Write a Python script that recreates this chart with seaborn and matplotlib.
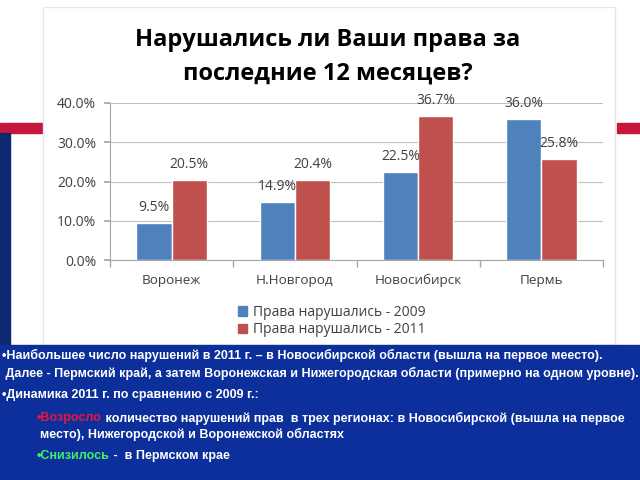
import pandas as pd
import seaborn as sns
import matplotlib.pyplot as plt
from matplotlib.patches import Rectangle, Patch

# ---------- данные ----------
regions = ["Воронеж", "Н.Новгород", "Новосибирск", "Пермь"]
viol_2009 = [0.095, 0.149, 0.225, 0.360]
viol_2011 = [0.205, 0.204, 0.367, 0.258]
series_names = ["Права нарушались - 2009", "Права нарушались - 2011"]
y_ticks = [0.0, 0.1, 0.2, 0.3, 0.4]

title = "Нарушались ли Ваши права за\nпоследние 12 месяцев?"

notes = [
    "•Наибольшее число нарушений в 2011 г. – в Новосибирской области (вышла на первое меесто).",
    " Далее - Пермский край, а затем Воронежская и Нижегородская области (примерно на одном уровне).",
    "•Динамика 2011 г. по сравнению с 2009 г.:",
]
up_word = "•Возросло"
up_rest = " количество нарушений прав  в трех регионах: в Новосибирской (вышла на первое"
up_line2 = "место), Нижегородской и Воронежской областях"
down_word = "•Снизилось"
down_rest = " -  в Пермском крае"

colors = ["#4F81BD", "#C0504D"]

sns.set_theme(style="white")
plt.rcParams["font.family"] = ["Open Sans", "DejaVu Sans"]

W, H = 640, 480
fig = plt.figure(figsize=(6.4, 4.8), dpi=100)
fig.patch.set_facecolor("white")


def fx(px):
    return px / W


def fy(py):
    return 1 - py / H


# ---------- фон слайда ----------
fig.patches.append(Rectangle((fx(0), fy(133)), fx(43), 10 / H, transform=fig.transFigure,
                             color="#C8153E", zorder=0))
fig.patches.append(Rectangle((fx(617), fy(133)), fx(23), 10 / H, transform=fig.transFigure,
                             color="#C8153E", zorder=0))
fig.patches.append(Rectangle((fx(0), fy(480)), fx(10), (480 - 133) / H, transform=fig.transFigure,
                             color="#0B2870", zorder=0))
fig.patches.append(Rectangle((fx(43), fy(345)), fx(615 - 43), (345 - 7) / H, transform=fig.transFigure,
                             facecolor="white", edgecolor="#E6E6E6", lw=1, zorder=1))
fig.patches.append(Rectangle((0, 0), 1, (480 - 345) / H, transform=fig.transFigure,
                             color="#0C2F9C", zorder=2))

# ---------- long format ----------
df = pd.DataFrame({
    "region": regions * 2,
    "value": viol_2009 + viol_2011,
    "series": [series_names[0]] * len(regions) + [series_names[1]] * len(regions),
})

ax = fig.add_axes([fx(110), fy(260), fx(603 - 110), (260 - 103) / H])
ax.set_zorder(3)
ax.patch.set_alpha(0)

sns.barplot(data=df, x="region", y="value", hue="series", palette=colors,
            width=0.57, gap=0, ax=ax, legend=False, saturation=1)

ax.set_ylim(0, 0.4)
ax.set_xlim(-0.5, len(regions) - 0.5)
ax.set_yticks(y_ticks)
ax.set_yticklabels([f"{v * 100:.1f}%" for v in y_ticks], fontsize=10, color="#404040")
ax.yaxis.grid(True, color="#BFBFBF", lw=0.8)
ax.set_axisbelow(True)
for s in ["top", "right"]:
    ax.spines[s].set_visible(False)
for s in ["left", "bottom"]:
    ax.spines[s].set_color("#A6A6A6")
    ax.spines[s].set_linewidth(0.8)
ax.tick_params(axis="y", length=4, color="#A6A6A6", pad=6, left=True)
ax.set_xticks([i - 0.5 for i in range(len(regions) + 1)], minor=True)
ax.tick_params(axis="x", which="minor", length=5, color="#A6A6A6", bottom=True)
ax.tick_params(axis="x", which="major", length=0, pad=10, labelsize=9.7, labelcolor="#404040")
ax.set_xlabel("")
ax.set_ylabel("")

# ---------- подписи ----------
for cont in ax.containers:
    for bar in cont:
        h = bar.get_height()
        ax.annotate(f"{h * 100:.1f}%", (bar.get_x() + bar.get_width() / 2, h),
                    xytext=(0, 11), textcoords="offset points",
                    ha="center", va="center", fontsize=10, color="#404040")

fig.text(fx(328), fy(57), title, ha="center", va="center", fontsize=17,
         fontweight="bold", color="black", linespacing=1.55, zorder=4)

handles = [Patch(color=c, label=n) for c, n in zip(colors, series_names)]
fig.legend(handles=handles, loc="upper left", bbox_to_anchor=(fx(225), fy(292)),
           frameon=False, fontsize=10, handlelength=0.7, handleheight=0.7,
           handletextpad=0.4, labelspacing=0.2, labelcolor="#404040")

# ---------- текст снизу ----------
tfont = dict(family=["Liberation Sans", "DejaVu Sans"], fontweight="bold", fontsize=9.0,
             va="center", ha="left", zorder=5)
fig.text(fx(2), fy(355), notes[0], color="white", **tfont)
fig.text(fx(2), fy(373), notes[1], color="white", **tfont)
fig.text(fx(2), fy(395), notes[2], color="white", **tfont)

renderer = fig.canvas.get_renderer()
t = fig.text(fx(37), fy(418), up_word, color="#E8173F", **tfont)
bb = t.get_window_extent(renderer)
fig.text(bb.x1 / W, fy(418), up_rest, color="white", **tfont)
fig.text(fx(40), fy(434), up_line2, color="white", **tfont)
t = fig.text(fx(37), fy(456), down_word, color="#3CF06A", **tfont)
bb = t.get_window_extent(renderer)
fig.text(bb.x1 / W, fy(456), down_rest, color="white", **tfont)

fig.savefig("out.png", dpi=100)
